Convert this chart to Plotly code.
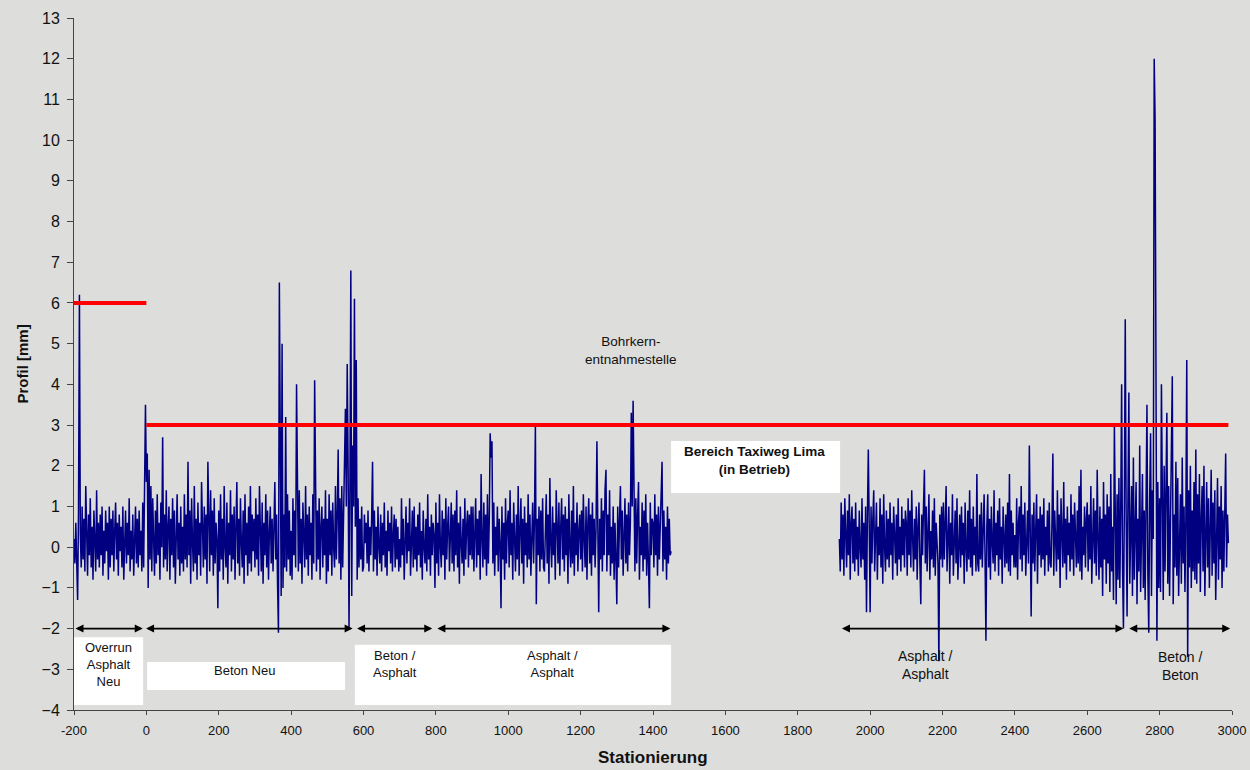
import plotly.graph_objects as go

# ---------------- data ----------------
STEP = 2.5  # sampling of the plotted profile, m

seg1_start = -200
seg1_profile = [
    # -200 .. -102.5
    0.2, -0.4, 0.6, -0.2, -1.3, 0.9, 6.2, 0.3, -0.5, 1.0,
    -0.3, 0.7, -0.6, 1.5, 0.0, -0.7, 0.8, -0.2, 1.2, -0.5,
    0.5, -0.8, 0.9, 0.1, -0.6, 1.4, -0.3, 0.6, -0.5, 0.8,
    -0.2, 1.0, -0.7, 0.4, -0.4, 0.9, -0.1, 0.6, -0.8, 1.0,
    # -100 .. -2.5
    -0.5, 0.7, -0.2, 0.9, -0.6, 0.4, 1.1, -0.3, 0.6, -0.7,
    0.8, -0.1, 0.5, -0.5, 1.0, -0.8, 0.3, 0.9, -0.4, 0.6,
    -0.2, 1.2, -0.6, 0.4, -0.3, 0.8, -0.7, 0.5, 1.0, -0.4,
    0.7, -0.5, 0.9, -0.2, 0.4, -0.6, 1.1, -0.5, 1.2, 3.5,
    # 0 .. 97.5
    1.6, 2.3, -1.0, 1.9, -0.3, 1.5, -0.6, 1.2, 0.2, -0.7,
    0.9, -0.4, 1.3, -0.2, 0.6, -0.8, 1.1, 0.0, 2.7, -0.5,
    0.8, -0.3, 1.4, -0.6, 0.5, 1.0, -0.8, 0.7, -0.2, 1.2,
    -0.5, 0.9, -0.9, 0.4, 1.3, -0.3, 0.6, -0.7, 1.0, -0.4,
    # 100 .. 197.5
    0.5, -0.6, 1.3, -0.3, 0.8, -0.5, 2.1, -0.2, 0.9, -0.9,
    1.2, 0.1, -0.6, 1.5, -0.4, 0.7, -0.8, 1.1, -0.2, 0.6,
    -0.7, 1.6, 0.0, -0.5, 1.0, -0.3, 0.8, -0.9, 2.1, 0.3,
    -0.6, 1.4, -0.2, 0.9, -0.7, 1.2, -0.4, 0.6, 0.2, -1.5,
    # 200 .. 297.5
    0.9, -0.6, 1.3, -0.3, 0.7, -0.8, 1.5, 0.0, -0.5, 1.1,
    -0.9, 0.6, -0.2, 1.4, -0.6, 0.8, -0.3, 1.0, -0.8, 0.5,
    1.6, -0.4, 0.7, -0.7, 1.2, 0.1, -0.5, 0.9, -0.9, 1.3,
    -0.2, 0.6, -0.7, 1.0, -0.4, 1.5, -0.6, 0.8, -0.1, 0.7,
    # 300 .. 397.5
    -0.5, 1.2, -0.3, 0.8, -0.7, 1.5, 0.2, -0.6, 1.1, -0.9,
    0.6, -0.2, 1.3, -0.5, 0.9, -0.8, 0.4, 1.0, -0.4, 0.7,
    -0.6, 1.2, 1.6, -0.3, 0.8, -0.9, -2.1, 6.5, 1.4, -1.2,
    5.0, -1.0, 0.8, -0.5, 3.2, -0.6, 1.3, -0.3, 0.9, -0.7,
    # 400 .. 497.5
    0.4, -0.8, 1.2, -0.2, 0.9, -0.5, 4.0, 0.3, -0.6, 1.4,
    -0.4, 0.7, -0.9, 1.1, 0.0, -0.5, 1.5, -0.3, 0.8, -0.7,
    1.0, -0.2, 0.6, -0.8, 1.3, -0.4, 4.1, 0.2, -0.6, 0.9,
    -0.3, 1.2, -0.8, 0.5, 1.0, -0.5, 0.7, -0.2, 1.4, -0.9,
    # 500 .. 597.5
    0.7, -0.6, 1.3, -0.2, 0.9, -0.7, 1.1, 0.0, -0.5, 1.5,
    -0.3, 0.8, 2.4, -0.4, 1.2, -0.8, 1.5, -0.5, 0.6, 1.8,
    3.4, 1.0, 4.5, 2.0, -2.0, 1.5, 6.8, -1.2, 2.5, 1.0,
    6.1, 0.5, 4.6, -0.8, 1.2, -0.5, 0.7, -0.3, 1.0, -0.6,
    # 600 .. 697.5
    -0.5, 0.8, 0.1, 0.6, -0.4, 0.9, -0.6, 0.5, -0.2, 0.7,
    2.1, -0.6, 0.9, -0.3, 0.5, -0.7, 1.0, 0.0, -0.4, 0.8,
    -0.6, 0.6, -0.2, 1.1, -0.5, 0.4, -0.7, 0.9, -0.1, 0.6,
    -0.4, 1.0, -0.6, 0.3, 0.8, -0.5, 0.7, -0.3, 0.5, -0.6,
    # 700 .. 797.5
    0.2, -0.5, 1.2, -0.2, 0.7, -0.8, 0.4, 1.0, -0.4, 0.6,
    -0.1, 1.2, -0.7, 0.3, 0.9, -0.5, 1.0, -0.3, 0.5, -0.6,
    0.8, -0.2, 1.1, -0.5, 0.4, -0.8, 0.9, 0.0, -0.4, 0.7,
    -0.6, 1.3, -0.3, 0.5, -0.7, 0.8, -0.2, 0.6, 0.3, -1.0,
    # 800 .. 897.5
    1.1, -0.4, 0.6, -0.7, 1.3, 0.0, -0.5, 0.9, -0.2, 0.7,
    -0.8, 1.2, -0.3, 0.5, 1.0, -0.6, 0.3, 1.1, -0.4, 0.8,
    -0.6, 0.9, -0.2, 1.4, -0.5, 0.6, -0.9, 1.0, 0.1, -0.4,
    0.7, -0.7, 1.2, -0.3, 0.5, 0.9, -0.5, 0.8, -0.2, 1.0,
    # 900 .. 997.5
    -0.3, 1.0, -0.6, 0.4, 1.2, -0.5, 0.7, -0.2, 0.9, -0.8,
    1.8, 0.2, -0.5, 1.1, -0.3, 0.8, -0.7, 1.3, -0.4, 0.6,
    2.8, 2.2, 2.6, -0.4, 1.1, -0.7, 0.5, -0.2, 1.0, -0.6,
    0.7, 0.1, -1.5, 1.0, -0.3, 0.6, -0.8, 1.2, -0.4, 0.6,
    # 1000 .. 1097.5
    0.9, -0.5, 1.4, -0.2, 0.6, -0.8, 1.1, 0.2, -0.6, 0.8,
    -0.3, 1.5, -0.7, 0.4, 1.2, -0.4, 0.7, -0.9, 1.0, -0.2,
    0.6, -0.5, 1.3, -0.3, 0.8, -0.7, 0.5, 1.1, -0.4, 0.7,
    3.0, -1.4, 0.7, -0.2, 1.0, -0.6, 0.9, -0.3, 1.2, -0.5,
    # 1100 .. 1197.5
    -0.6, 0.5, 1.3, -0.4, 0.8, -0.9, 1.7, 0.1, -0.5, 1.0,
    -0.2, 0.6, -0.8, 1.4, 0.3, -0.4, 1.1, -0.7, 0.5, 1.2,
    -0.3, 0.8, -0.6, 1.0, -0.2, 0.7, -0.9, 1.3, 0.0, -0.5,
    0.9, -0.4, 1.5, -0.7, 0.6, -0.2, 1.1, -0.6, 0.4, 0.8,
    # 1200 .. 1297.5
    -0.3, 0.9, -0.6, 1.3, 0.2, -0.5, 1.0, -0.8, 0.6, 1.2,
    -0.4, 0.8, -0.7, 1.1, -0.2, 0.7, -0.5, 0.4, 2.6, 0.3,
    -1.6, 0.7, -0.3, 1.2, -0.6, 0.9, -0.2, 1.4, 1.9, -0.6,
    0.8, -0.2, 1.4, -0.7, 0.5, -0.4, 1.0, -0.8, 0.6, -0.3,
    # 1300 .. 1397.5
    -1.4, 1.0, -0.5, 0.7, 1.5, -0.3, 0.9, -0.7, 0.5, 1.2,
    -0.4, 0.8, -0.6, 1.1, -0.2, 0.6, 3.3, 1.0, 3.6, 0.2,
    -0.6, 1.2, -0.4, 0.8, 1.6, -0.8, 0.5, -0.2, 1.1, -0.6,
    0.9, -0.3, 1.3, -0.7, 0.6, -0.4, -1.5, 1.1, -0.2, 0.7,
    # 1400 .. 1450
    0.6, -0.5, 1.3, -0.2, 0.8, -0.7, 1.0, -0.3, 0.5, 1.2,
    2.1, -0.6, 0.9, -0.3, 0.5, -0.8, 1.0, -0.4, 0.7, -0.2,
    -0.1,
]

seg2_start = 1915
seg2_profile = [
    # 1915 .. 1997.5
    0.2, -0.6, 1.1, -0.3, 0.8, -0.7, 1.2, 0.1, -0.5, 0.9,
    -0.2, 1.3, -0.8, 0.6, 1.0, -0.4, 0.7, -0.6, 1.1, -0.3,
    0.5, -0.7, 0.9, 0.0, -0.5, 1.2, -0.3, 0.6, -0.8, 1.0,
    -1.6, 0.8, 2.4, 0.5,
    # 2000 .. 2097.5
    -1.6, 1.0, -0.4, 0.7, 1.4, -0.6, 0.3, 1.1, -0.8, 0.5,
    -0.2, 1.2, -0.5, 0.8, -0.9, 1.3, 0.0, -0.6, 0.9, -0.3,
    0.7, -0.5, 1.1, -0.2, 0.6, -0.8, 1.0, 0.2, -0.4, 0.8,
    -0.7, 1.2, -0.3, 0.5, -0.6, 1.0, -0.2, 0.7, -0.5, 0.9,
    # 2100 .. 2197.5
    0.6, -0.7, 1.2, -0.2, 0.9, -0.5, 1.4, 0.2, -0.6, 0.7,
    -0.3, 1.0, -0.8, 0.5, 1.1, -0.4, -1.4, 0.8, -0.2, 1.0,
    1.9, -0.4, 1.0, -0.6, 0.5, 1.3, -0.8, 0.4, -0.3, 0.9,
    -0.5, 1.2, -0.7, 0.6, 0.1, -0.4, -2.8, 0.8, -0.3, 1.0,
    # 2200 .. 2297.5
    -0.5, 1.1, -0.3, 0.7, 1.5, -0.6, 0.2, 1.0, -0.9, 0.6,
    -0.2, 1.3, -0.7, 0.4, 0.9, -0.4, 1.2, -0.8, 0.3, 0.8,
    -0.5, 1.0, -0.2, 0.6, -0.9, 1.1, 0.0, -0.6, 0.9, -0.3,
    1.4, -0.5, 0.7, -0.7, 1.0, -0.2, 0.5, -0.6, 1.8, -0.4,
    # 2300 .. 2397.5
    -0.6, 0.8, -0.3, 1.1, -0.5, 0.6, 1.3, -0.2, -2.3, 0.5,
    1.3, -0.5, 0.7, -0.8, 1.0, 0.1, -0.4, 1.4, -0.6, 0.6,
    -0.2, 0.9, -0.7, 1.2, -0.3, 0.5, -0.9, 1.0, 0.2, -0.5,
    0.8, -0.4, 1.1, -0.6, 1.8, -0.7, 0.9, -0.2, 0.6, -0.5,
    # 2400 .. 2497.5
    0.3, -0.5, 1.2, -0.8, 0.6, 1.0, -0.3, 1.5, -0.6, 0.8,
    -0.2, 1.1, -0.7, 0.5, 0.9, -0.4, 2.5, 0.4, -1.7, 0.8,
    -0.4, 1.1, -0.6, 0.4, 1.3, -0.9, 0.7, -0.2, 1.0, -0.5,
    0.8, -0.3, 1.2, -0.7, 0.5, -0.2, 0.9, -0.6, 1.1, -0.4,
    # 2500 .. 2597.5
    -0.5, 0.6, 2.3, -0.7, 0.9, 0.2, -0.6, 1.4, -0.3, 0.8,
    -1.0, 1.2, 0.0, -0.5, 1.6, -0.4, 0.7, -0.8, 1.0, -0.2,
    0.6, -0.6, 1.3, -0.3, 0.8, -0.7, 1.1, 0.1, -0.5, 0.9,
    -0.4, 1.5, -0.6, 1.9, -0.8, 0.5, -0.2, 1.0, -0.5, 0.7,
    # 2600 .. 2697.5
    1.1, -0.6, 0.8, -0.3, 1.5, -0.9, 0.6, 1.2, -0.4, 0.9,
    -0.7, 1.9, 0.2, -0.8, 1.0, -0.5, 0.7, -1.2, 1.6, -0.3,
    0.8, -0.9, 1.3, -0.4, 1.0, -1.1, 1.8, -0.6, 0.5, -1.3,
    3.0, 0.4, -1.4, 1.3, -0.8, 1.7, -1.0, 0.9, 4.0, -0.5,
    # 2700 .. 2797.5
    -2.0, 1.0, 5.6, 0.8, -1.7, 1.2, 3.8, -0.9, 0.5, 1.5,
    -1.2, 2.2, -0.8, 1.0, 1.6, -1.4, 0.7, -0.6, 2.5, -1.1,
    0.3, 1.8, -1.0, 0.9, -1.3, 1.4, 3.5, -0.7, -2.1, 1.2,
    2.8, -1.2, 1.4, 0.2, 12.0, 10.5, 4.5, -2.3, 1.6, -1.0,
    # 2800 .. 2897.5
    1.2, -1.1, 4.0, 0.5, -1.3, 2.0, -0.6, 1.4, 3.3, -0.9,
    1.5, -1.2, 0.8, 2.1, 4.2, -1.4, 0.8, -0.5, 2.1, -0.7,
    1.7, -1.2, 0.6, 1.3, -0.9, 2.2, -0.4, 1.0, -1.1, 0.7,
    4.6, -2.7, 1.4, -0.5, 2.0, -1.0, 0.9, -0.6, 1.6, -0.8,
    # 2900 .. 2990
    2.4, -0.9, 1.3, -0.4, 1.8, -1.1, 0.7, 1.5, -0.6, 2.0,
    -1.2, 0.9, 1.6, -0.5, 1.2, -1.0, 0.8, 1.9, -0.7, 1.1,
    -0.4, 1.4, -1.3, 0.6, 1.7, -0.8, 1.0, -0.3, 1.5, -1.0,
    0.9, -0.6, 1.2, 2.3, -0.5, 0.8, 0.1,
]

# limit lines (red)
limit1_x = [-200, 0]
limit1_y = [6, 6]
limit2_x = [0, 2990]
limit2_y = [3, 3]

# section arrows at y = -2 (start, end)
section_starts = [-200, -5, 578, 800, 1918, 2712]
section_ends = [-10, 570, 790, 1448, 2700, 2995]
section_y = -2

x_ticks = list(range(-200, 3001, 200))
y_ticks = list(range(-4, 14))

# ---------------- figure ----------------
seg1_x = [seg1_start + i * STEP for i in range(len(seg1_profile))]
seg2_x = [seg2_start + i * STEP for i in range(len(seg2_profile))]

BG = "#dddddb"
NAVY = "#000080"
FONT = "Liberation Sans, Arial, sans-serif"

fig = go.Figure()
fig.add_trace(go.Scatter(x=seg1_x, y=seg1_profile, mode="lines",
                         line=dict(color=NAVY, width=1.5), hoverinfo="skip"))
fig.add_trace(go.Scatter(x=seg2_x, y=seg2_profile, mode="lines",
                         line=dict(color=NAVY, width=1.5), hoverinfo="skip"))
fig.add_trace(go.Scatter(x=limit1_x, y=limit1_y, mode="lines",
                         line=dict(color="#ff0000", width=4), hoverinfo="skip"))
fig.add_trace(go.Scatter(x=limit2_x, y=limit2_y, mode="lines",
                         line=dict(color="#ff0000", width=4), hoverinfo="skip"))

# white label boxes
boxes = [
    (-200, -9, -3.88, -2.21),
    (2, 549, -3.51, -2.82),
    (576, 1450, -3.88, -2.40),
    (1450, 1917, 1.33, 2.61),
]
for x0, x1, y0, y1 in boxes:
    fig.add_shape(type="rect", x0=x0, x1=x1, y0=y0, y1=y1, xref="x", yref="y",
                  fillcolor="white", line=dict(width=0), layer="below")

annotations = []
for s, e in zip(section_starts, section_ends):
    annotations.append(dict(x=e, y=section_y, ax=s, ay=section_y, xref="x", yref="y",
                            axref="x", ayref="y", text="", showarrow=True,
                            arrowhead=2, arrowside="end+start", arrowsize=1,
                            arrowwidth=1.6, arrowcolor="black"))

labels = [
    (-106, -2.87, "Overrun<br>Asphalt<br>Neu", 13),
    (272, -3.04, "Beton Neu", 13),
    (687, -2.87, "Beton /<br>Asphalt", 13),
    (1123, -2.87, "Asphalt /<br>Asphalt", 13),
    (2154, -2.9, "Asphalt /<br>Asphalt", 14),
    (2856, -2.92, "Beton /<br>Beton", 14),
    (1339, 4.82, "Bohrkern-<br>entnahmestelle", 13.5),
    (1680, 2.12, "<b>Bereich Taxiweg Lima<br>(in Betrieb)</b>", 13.5),
]
for x, y, t, fs in labels:
    annotations.append(dict(x=x, y=y, xref="x", yref="y", text=t, showarrow=False,
                            font=dict(family=FONT, size=fs, color="#111111"),
                            align="center", xanchor="center", yanchor="middle"))

# axis titles
annotations.append(dict(x=0.5, y=-0.069, xref="paper", yref="paper",
                        text="<b>Stationierung</b>", showarrow=False,
                        font=dict(family=FONT, size=17, color="#111111"),
                        xanchor="center", yanchor="middle"))
annotations.append(dict(x=-0.0445, y=0.5, xref="paper", yref="paper",
                        text="<b>Profil [mm]</b>", showarrow=False, textangle=-90,
                        font=dict(family=FONT, size=15, color="#111111"),
                        xanchor="center", yanchor="middle"))

fig.update_layout(
    width=1250, height=770,
    margin=dict(l=74, r=18, t=18, b=60, autoexpand=False),
    paper_bgcolor=BG, plot_bgcolor=BG,
    showlegend=False,
    annotations=annotations,
    font=dict(family=FONT, color="#111111"),
)
fig.update_xaxes(range=[-200, 3000], tickvals=x_ticks, ticktext=[str(v) for v in x_ticks],
                 showgrid=False, zeroline=False, showline=True, linecolor="#444444",
                 linewidth=1, ticks="outside", ticklen=4, tickcolor="#444444",
                 automargin=False, ticklabelstandoff=4,
                 tickfont=dict(family=FONT, size=13, color="#111111"))
fig.update_yaxes(range=[-4, 13], tickvals=y_ticks,
                 showgrid=False, zeroline=False, showline=True, linecolor="#444444",
                 linewidth=1, ticks="outside", ticklen=6, tickcolor="#444444",
                 automargin=False, ticklabelstandoff=4,
                 tickfont=dict(family=FONT, size=16, color="#111111"))

fig.write_html("out.html", config={"displayModeBar": False},
               post_script="document.body.style.margin='0';")
